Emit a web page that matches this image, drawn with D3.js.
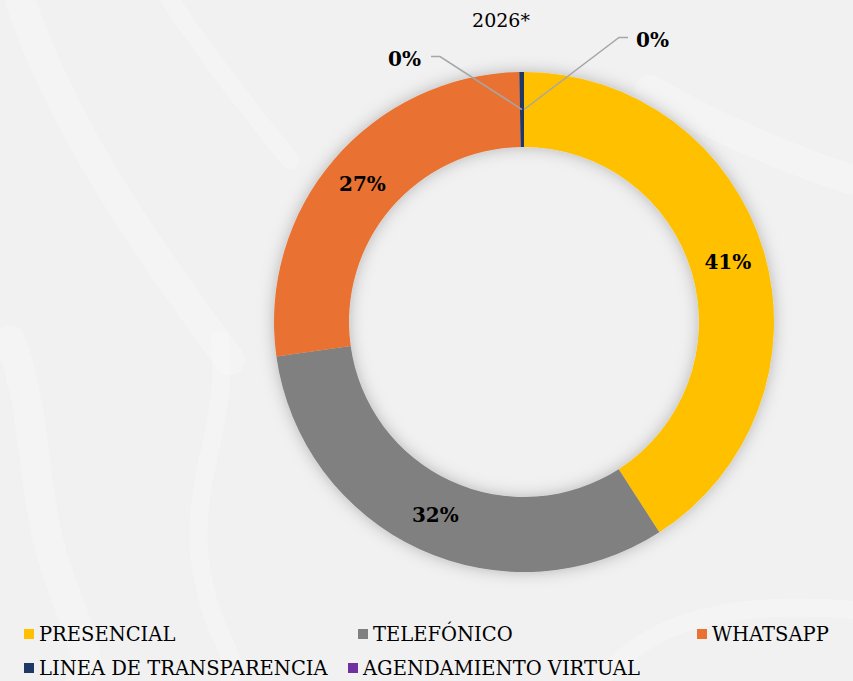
<!DOCTYPE html>
<html>
<head>
<meta charset="utf-8">
<script src="https://cdn.jsdelivr.net/npm/d3@7"></script>
<style>
  body { margin: 0; background: #f1f1f1; }
  svg { display: block; }
</style>
</head>
<body>
<div class="canvas"></div>
<script>
// chart data
const categories = ['PRESENCIAL', 'TELEFÓNICO', 'WHATSAPP', 'LINEA DE TRANSPARENCIA', 'AGENDAMIENTO VIRTUAL'];
const values = [40.9, 31.9, 26.9, 0.3, 0.0];
const colors = ['#FFC000', '#808080', '#E97132', '#203864', '#7030A0'];
const title = '2026*';

const font = '"Palatino Linotype", "Book Antiqua", Palatino, "DejaVu Serif", serif';

// dimensions
const dims = { width: 853, height: 681, outer: 250, inner: 175 };
const cent = { x: 524, y: 322 };

const svg = d3.select('.canvas')
  .append('svg')
  .attr('width', dims.width)
  .attr('height', dims.height);

// background with faint white swirls
svg.append('rect')
  .attr('width', dims.width)
  .attr('height', dims.height)
  .attr('fill', '#f1f1f1');

const swirls = [
  'M 20 0 C 60 120, 140 240, 230 360',
  'M 170 0 C 210 60, 250 110, 290 160',
  'M 10 340 C 40 420, 30 500, 60 580 S 90 660, 80 681',
  'M 220 340 C 230 420, 190 480, 200 560 S 240 650, 230 681',
  'M 650 90 C 720 130, 790 160, 853 180',
  'M 600 681 C 650 620, 730 600, 853 610'
];
svg.append('g')
  .selectAll('path')
  .data(swirls)
  .enter()
  .append('path')
    .attr('d', d => d)
    .attr('fill', 'none')
    .attr('stroke', '#fbfbfb')
    .attr('stroke-width', (d, i) => i % 2 ? 18 : 30)
    .attr('stroke-opacity', 0.4)
    .attr('stroke-linecap', 'round');

// shadow filter
const defs = svg.append('defs');
const shadow = defs.append('filter')
  .attr('id', 'shadow')
  .attr('x', '-20%').attr('y', '-20%')
  .attr('width', '140%').attr('height', '140%');
shadow.append('feDropShadow')
  .attr('dx', 0).attr('dy', 0)
  .attr('stdDeviation', 8)
  .attr('flood-color', '#000')
  .attr('flood-opacity', 0.25);

const graph = svg.append('g')
  .attr('transform', `translate(${cent.x}, ${cent.y})`);

const pie = d3.pie()
  .sort(null)
  .value(d => d.value);

const arcPath = d3.arc()
  .outerRadius(dims.outer)
  .innerRadius(dims.inner);

const data = categories.map((c, i) => ({ name: c, value: values[i], color: colors[i] }));
const arcs = pie(data);
const total = d3.sum(values);
const pct = d3.format('.0%');

graph.append('g')
  .attr('filter', 'url(#shadow)')
  .selectAll('path')
  .data(arcs)
  .enter()
  .append('path')
    .attr('d', arcPath)
    .attr('fill', d => d.data.color);

// labels - big slices at centroid, tiny slices get leader lines
const labelGroup = graph.append('g')
  .attr('font-family', font)
  .attr('font-weight', 'bold')
  .attr('font-size', '20px')
  .attr('fill', '#000');

const leaderOffsets = {
  3: { elbow: [-82, -53], end: [-91, -53], anchor: 'end' },
  4: { elbow: [95, -72], end: [104, -72], anchor: 'start' }
};

arcs.forEach((d, i) => {
  const c = arcPath.centroid(d);
  const text = pct(d.data.value / total);
  const off = leaderOffsets[i];
  if (!off) {
    labelGroup.append('text')
      .attr('x', c[0])
      .attr('y', c[1])
      .attr('dy', '0.35em')
      .attr('text-anchor', 'middle')
      .text(text);
  } else {
    graph.append('polyline')
      .attr('points', [c, [c[0] + off.elbow[0], c[1] + off.elbow[1]], [c[0] + off.end[0], c[1] + off.end[1]]].map(p => p.join(',')).join(' '))
      .attr('fill', 'none')
      .attr('stroke', '#a6a6a6')
      .attr('stroke-width', 1.5);
    labelGroup.append('text')
      .attr('x', c[0] + off.end[0] + (off.anchor === 'end' ? -10 : 8))
      .attr('y', c[1] + off.end[1] + 2)
      .attr('dy', '0.35em')
      .attr('text-anchor', off.anchor)
      .text(text);
  }
});

// title
svg.append('text')
  .attr('x', 501)
  .attr('y', 20)
  .attr('dy', '0.35em')
  .attr('text-anchor', 'middle')
  .attr('font-family', font)
  .attr('font-size', '19px')
  .attr('fill', '#000')
  .text(title);

// legend
const legendPos = [[24, 634], [358, 634], [697, 634], [24, 668], [348, 668]];
const legend = svg.append('g')
  .attr('font-family', font)
  .attr('font-size', '19.5px')
  .attr('fill', '#000');

data.forEach((d, i) => {
  const [x, y] = legendPos[i];
  legend.append('rect')
    .attr('x', x)
    .attr('y', y - 5)
    .attr('width', 10)
    .attr('height', 10)
    .attr('fill', d.color);
  legend.append('text')
    .attr('x', x + 15)
    .attr('y', y)
    .attr('dy', '0.35em')
    .text(d.name);
});
</script>
</body>
</html>
